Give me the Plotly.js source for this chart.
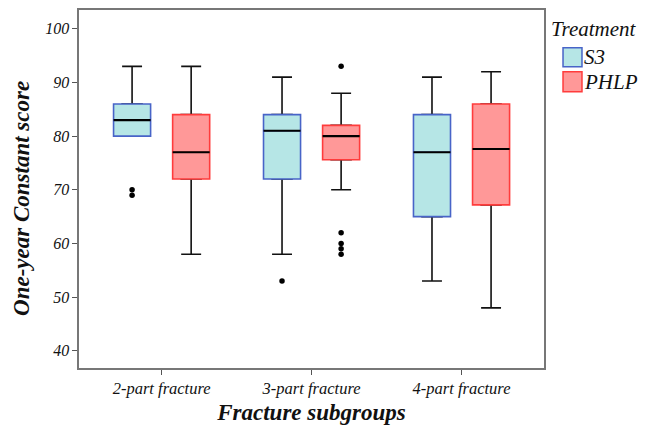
<!DOCTYPE html>
<html>
<head>
<meta charset="utf-8">
<script src="https://cdn.plot.ly/plotly-3.0.1.min.js"></script>
<style>html,body{margin:0;padding:0;background:#fff;}#chart{width:658px;height:426px;}</style>
</head>
<body>
<div id="chart"></div>
<script>
// ---- data ----
var categories = ["2-part fracture", "3-part fracture", "4-part fracture"];
var groups = ["S3", "PHLP"];

var s3Q1 = [80, 72, 65];
var s3Median = [83, 81, 77];
var s3Q3 = [86, 84, 84];
var s3Lower = [80, 58, 53];
var s3Upper = [93, 91, 91];
var s3OutCat = [0, 0, 1];
var s3OutVal = [70, 69, 53];

var phQ1 = [72, 75.6, 67.2];
var phMedian = [77, 80, 77.6];
var phQ3 = [84, 82, 86];
var phLower = [58, 70, 48];
var phUpper = [93, 88, 92];
var phOutCat = [1, 1, 1, 1, 1];
var phOutVal = [93, 62, 60, 59, 58];

// ---- styling ----
var OFFSET = 0.197, BOXW = 0.247, CAPW = 0.133;
var FONT = "'Liberation Serif', 'Times New Roman', serif";
var styles = {
  S3: {fill: "rgb(182,230,230)", line: "rgb(72,100,200)"},
  PHLP: {fill: "rgb(255,152,152)", line: "rgb(255,60,60)"}
};

function pos(idx, sign) { return idx.map(function (i) { return i + sign * OFFSET; }); }
var idx = categories.map(function (c, i) { return i; });

function groupTraces(name, sign, q1, med, q3, lo, hi, outCat, outVal) {
  var st = styles[name];
  var xs = pos(idx, sign);
  return [
    {type: "box", x: xs, q1: q1, median: med, q3: q3, lowerfence: lo, upperfence: hi,
     width: CAPW, whiskerwidth: 1, boxpoints: false, fillcolor: "rgba(0,0,0,0)",
     line: {color: "#111", width: 1.6}, showlegend: false, hoverinfo: "skip", name: name},
    {type: "box", x: xs, q1: q1, median: med, q3: q3, lowerfence: q1, upperfence: q3,
     width: BOXW, whiskerwidth: 0, boxpoints: false, fillcolor: st.fill,
     line: {color: st.line, width: 1.6}, showlegend: false, name: name},
    {type: "box", x: xs, q1: med, median: med, q3: med, lowerfence: med, upperfence: med,
     width: BOXW, whiskerwidth: 0, boxpoints: false, fillcolor: "rgba(0,0,0,0)",
     line: {color: "#000", width: 2.2}, showlegend: false, hoverinfo: "skip", name: name},
    {type: "scatter", mode: "markers", x: pos(outCat, sign), y: outVal,
     marker: {color: "#000", size: 5.5}, showlegend: false, name: name}
  ];
}

var data = [].concat(
  groupTraces("S3", -1, s3Q1, s3Median, s3Q3, s3Lower, s3Upper, s3OutCat, s3OutVal),
  groupTraces("PHLP", 1, phQ1, phMedian, phQ3, phLower, phUpper, phOutCat, phOutVal)
);

var shapes = [], annotations = [];
var legY = [[0.8947, 0.8416], [0.8277, 0.7718]];
groups.forEach(function (g, i) {
  shapes.push({type: "rect", xref: "paper", yref: "paper", x0: 1.0409, x1: 1.0817,
    y0: legY[i][1], y1: legY[i][0], fillcolor: styles[g].fill, line: {color: styles[g].line, width: 1.5}});
  annotations.push({xref: "paper", yref: "paper", x: 1.081, y: (legY[i][0] + legY[i][1]) / 2,
    xanchor: "left", yanchor: "middle", text: g, showarrow: false,
    font: {family: FONT, size: 21, color: "#111", style: "italic"}});
});
annotations.push({xref: "paper", yref: "paper", x: 1.01, y: 0.946, xanchor: "left", yanchor: "middle",
  text: "Treatment", showarrow: false, font: {family: FONT, size: 21, color: "#111", style: "italic"}});
// y-axis title, placed as in the reference
annotations.push({xref: "paper", yref: "paper", x: -0.1226, y: 0.475, xanchor: "center", yanchor: "middle",
  textangle: -90, text: "One-year Constant score", showarrow: false,
  font: {family: FONT, size: 23, color: "#111", style: "italic", weight: 600}});

var layout = {
  width: 658, height: 426,
  margin: {l: 79, r: 114, t: 10, b: 58},
  paper_bgcolor: "#fff", plot_bgcolor: "#fff",
  boxmode: "overlay",
  showlegend: false,
  font: {family: FONT, color: "#111"},
  xaxis: {
    range: [-0.551, 2.55], tickvals: idx, ticktext: categories,
    showgrid: false, zeroline: false, showline: true, mirror: true,
    linecolor: "#777", linewidth: 1.6, ticks: "outside", ticklen: 5, tickcolor: "#555",
    tickfont: {family: FONT, size: 16.5, color: "#111", style: "italic"},
    title: {text: "Fracture subgroups", standoff: 6,
      font: {family: FONT, size: 23, color: "#111", style: "italic", weight: 600}}
  },
  yaxis: {
    range: [36.8, 103.5], dtick: 10, tick0: 0,
    showgrid: false, zeroline: false, showline: true, mirror: true,
    linecolor: "#777", linewidth: 1.6, ticks: "outside", ticklen: 5, tickcolor: "#555",
    tickfont: {family: FONT, size: 16, color: "#111", style: "italic"}
  },
  shapes: shapes,
  annotations: annotations
};

Plotly.newPlot("chart", data, layout, {displayModeBar: false, staticPlot: true});
</script>
</body>
</html>
